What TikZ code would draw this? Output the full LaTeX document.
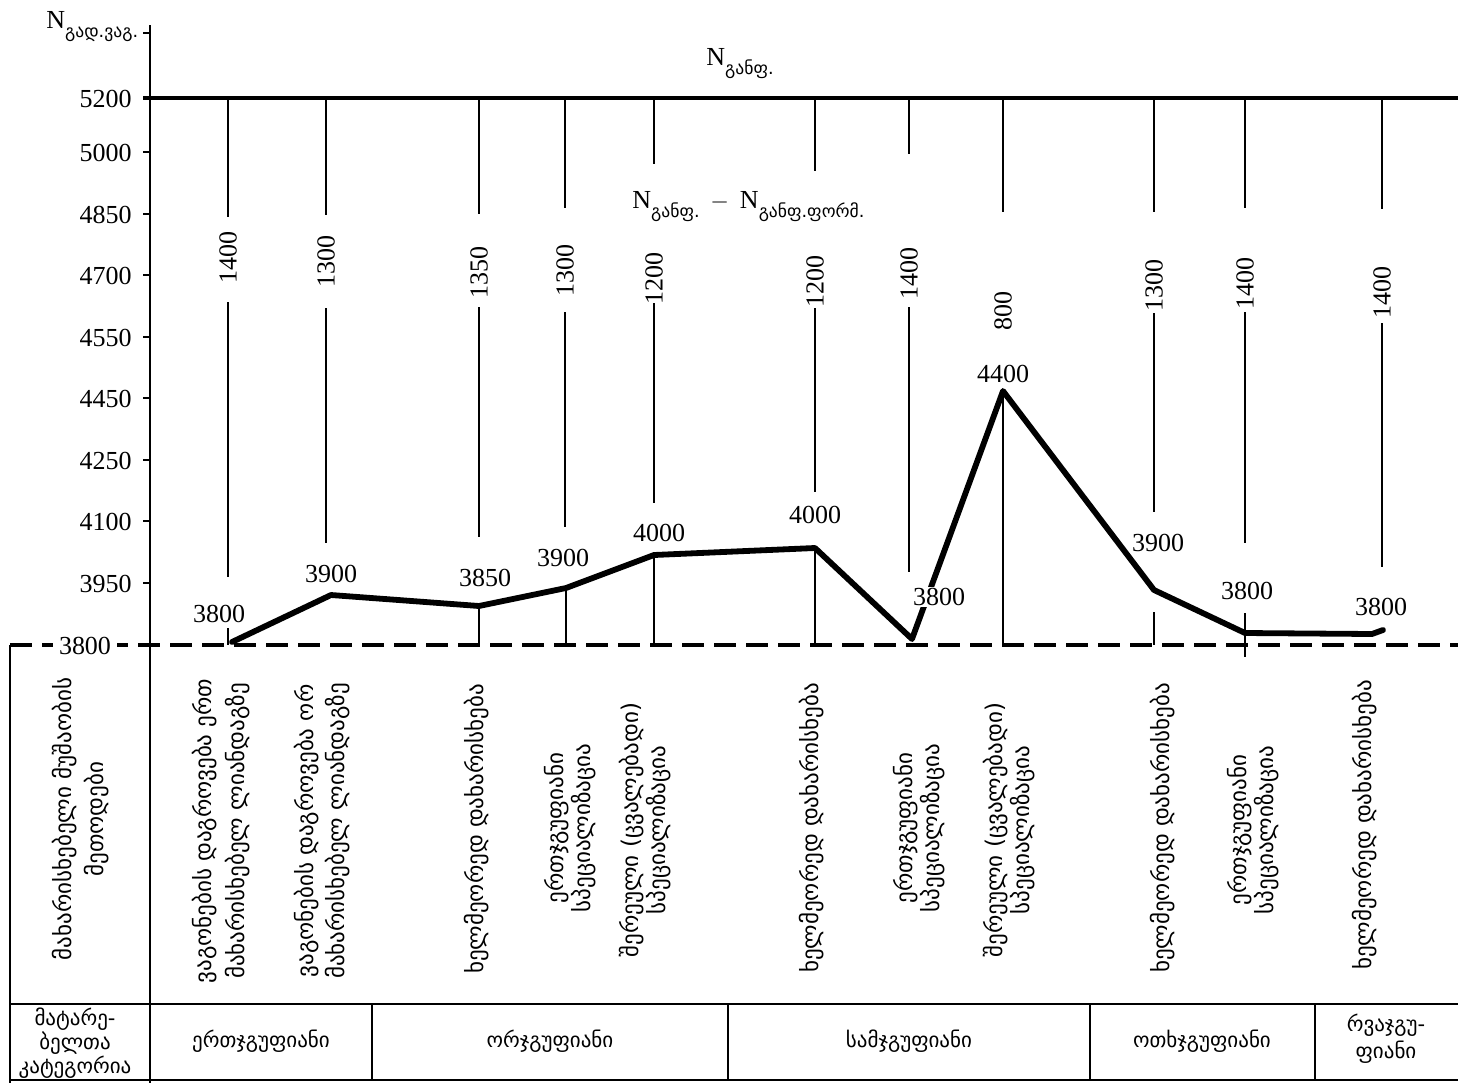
\documentclass[tikz,border=0pt]{standalone}
\usepackage{fontspec}
\setmainfont{Liberation Serif}
\newfontfamily\geo{DejaVu Sans}
\newcommand\gsub[1]{\raisebox{-4.5pt}{\geo\fontsize{8.8}{10}\selectfont #1}}
\begin{document}
\begin{tikzpicture}[x=0.5pt,y=-0.5pt,
  thinline/.style={line width=0.8pt},
  axisline/.style={line width=1.3pt},
  boldline/.style={line width=1.8pt},
  curve/.style={line width=2.9pt, line join=round, line cap=round},
  dashline/.style={line width=2pt, dash pattern=on 11pt off 5pt},
  num/.style={font=\fontsize{13}{15}\selectfont, inner sep=1pt},
  vnum/.style={num, rotate=90},
  geolab/.style={font=\geo\fontsize{11.5}{13.5}\selectfont, rotate=90, align=center, inner sep=0pt},
  cat/.style={font=\geo\fontsize{10.5}{12}\selectfont, align=center, inner sep=0pt},
]
\useasboundingbox (0,0) rectangle (1458,1083);

% axis
\coordinate (ytop) at (150,25);
\coordinate (ybot) at (150,1083);
\draw[axisline] (ytop) -- (ybot);
\coordinate (h5200a) at (143,98);
\coordinate (h5200b) at (1458,98);
\draw[boldline] (h5200a) -- (h5200b);
\foreach \yy [count=\k] in {33,152,214,275,337,398,460,521,583}{
  \coordinate (tka\k) at (143,\yy);
  \coordinate (tkb\k) at (150,\yy);
  \draw[axisline] (tka\k) -- (tkb\k);
}
\foreach \val/\yy in {5200/99,5000/153,4850/215,4700/276,4550/338,4450/399,4250/461,4100/522,3950/584}{
  \node[num, anchor=east] (tl\val) at (134,\yy) {\val};
}
\node[anchor=base west, inner sep=0pt, font=\fontsize{13}{15}\selectfont] (ylab) at (46,28) {N\gsub{გად.ვაგ.}};
\node[anchor=base west, inner sep=0pt, font=\fontsize{13}{15}\selectfont] (nf1) at (706,65) {N\gsub{განფ.}};
\node[anchor=base west, inner sep=0pt, font=\fontsize{13}{15}\selectfont] (nf2) at (632,208) {N\gsub{განფ.}\ \,$-$\ \,N\gsub{განფ.ფორმ.}};

% vertical lines with labels
\foreach \i/\x/\ta/\lab/\ly/\lb/\le in {
  1/228/217/1400/257/302/577,
  2/326/215/1300/261/308/543,
  3/479/214/1350/272/307/537,
  4/565/208/1300/270/312/527,
  5/654/164/1200/278/303/503,
  6/815/171/1200/281/308/492,
  7/909/154/1400/273/307/572,
  9/1154/212/1300/285/313/512,
  10/1245/208/1400/283/312/543,
  11/1382/209/1400/292/323/567}{
  \coordinate (va\i) at (\x,98);
  \coordinate (vb\i) at (\x,\ta);
  \node[vnum] (vn\i) at (\x,\ly) {\lab};
  \coordinate (vc\i) at (\x,\lb);
  \coordinate (vd\i) at (\x,\le);
  \draw[thinline] (va\i) -- (vb\i);
  \draw[thinline] (vc\i) -- (vd\i);
}
\coordinate (va8) at (1003,98);
\coordinate (vb8) at (1003,212);
\node[vnum] (vn8) at (1003,311) {800};
\draw[thinline] (va8) -- (vb8);

% curve points
\coordinate (p1) at (232,642);
\coordinate (p2) at (331,595);
\coordinate (p3) at (479,606);
\coordinate (p4) at (566,588);
\coordinate (p5) at (654,555);
\coordinate (p6) at (815,548);
\coordinate (p7) at (912,639);
\coordinate (p8) at (1003,391);
\coordinate (p9) at (1154,590);
\coordinate (p10) at (1245,633);
\coordinate (p11) at (1372,634);
\coordinate (p12) at (1383,630);

% drops to base line
\coordinate (b1) at (228,628); \coordinate (b1e) at (228,645);
\coordinate (b3) at (479,645);
\coordinate (b4) at (566,645);
\coordinate (b5) at (654,645);
\coordinate (b6) at (815,645);
\coordinate (b8) at (1003,645);
\coordinate (b9s) at (1154,612); \coordinate (b9) at (1154,645);
\coordinate (b10s) at (1245,613); \coordinate (b10) at (1245,657);
\draw[thinline] (b1) -- (b1e);
\draw[axisline] (p3) -- (b3);
\draw[axisline] (p4) -- (b4);
\draw[axisline] (p5) -- (b5);
\draw[axisline] (p6) -- (b6);
\draw[axisline] (p8) -- (b8);
\draw[axisline] (b9s) -- (b9);
\draw[axisline] (b10s) -- (b10);

% base dashed line
\coordinate (dA) at (10,645);
\coordinate (dB) at (1458,645);
\draw[dashline] (dA) -- (dB);
\node[num, fill=white, inner xsep=3pt] (tl3800) at (85,646) {3800};

% the curve
\draw[curve] (p1) -- (p2) -- (p3) -- (p4) -- (p5) -- (p6) -- (p7) -- (p8) -- (p9) -- (p10) -- (p11) -- (p12);

% value labels
\node[num] (q1) at (219,614) {3800};
\node[num] (q2) at (331,574) {3900};
\node[num] (q3) at (485,578) {3850};
\node[num] (q4) at (563,558) {3900};
\node[num] (q5) at (659,533) {4000};
\node[num] (q6) at (815,515) {4000};
\node[num, fill=white, inner sep=0.5pt] (q7) at (939,597) {3800};
\node[num] (q8) at (1003,374) {4400};
\node[num] (q9) at (1158,543) {3900};
\node[num] (q10) at (1247,591) {3800};
\node[num] (q11) at (1381,607) {3800};

% lower table frame
\coordinate (fL1) at (10,645); \coordinate (fL2) at (10,1083);
\draw[axisline] (fL1) -- (fL2);
\coordinate (r1a) at (10,1004); \coordinate (r1b) at (1458,1004);
\coordinate (r2a) at (10,1080); \coordinate (r2b) at (1458,1080);
\draw[axisline] (r1a) -- (r1b);
\draw[axisline] (r2a) -- (r2b);
\foreach \x [count=\k] in {372,728,1090,1315}{
  \coordinate (dv\k a) at (\x,1004);
  \coordinate (dv\k b) at (\x,1080);
  \draw[axisline] (dv\k a) -- (dv\k b);
}

% rotated method labels
\node[geolab, font=\geo\fontsize{11.5}{16}\selectfont] (m0) at (81,819) {მახარისხებელი მუშაობის\\მეთოდები};
\node[geolab, font=\geo\fontsize{11.5}{16.5}\selectfont] (m1) at (221,831) {ვაგონების დაგროვება ერთ\\მახარისხებელ ლიანდაგზე};
\node[geolab, font=\geo\fontsize{11.5}{15.5}\selectfont] (m2) at (322,831) {ვაგონების დაგროვება ორ\\მახარისხებელ ლიანდაგზე};
\node[geolab] (m3) at (477,829) {ხელმეორედ დახარისხება};
\node[geolab] (m4) at (570,828) {ერთჯგუფიანი\\სპეციალიზაცია};
\node[geolab] (m5) at (645,830) {შერეული (ცვალებადი)\\სპეციალიზაცია};
\node[geolab] (m6) at (812,828) {ხელმეორედ დახარისხება};
\node[geolab] (m7) at (919,828) {ერთჯგუფიანი\\სპეციალიზაცია};
\node[geolab] (m8) at (1009,830) {შერეული (ცვალებადი)\\სპეციალიზაცია};
\node[geolab] (m9) at (1163,828) {ხელმეორედ დახარისხება};
\node[geolab] (m10) at (1253,830) {ერთჯგუფიანი\\სპეციალიზაცია};
\node[geolab] (m11) at (1365,825) {ხელმეორედ დახარისხება};

% category row
\node[cat] (k0) at (75,1043) {მატარე-\\ბელთა\\კატეგორია};
\node[cat] (k1) at (261,1041) {ერთჯგუფიანი};
\node[cat] (k2) at (550,1041) {ორჯგუფიანი};
\node[cat] (k3) at (909,1041) {სამჯგუფიანი};
\node[cat] (k4) at (1202,1041) {ოთხჯგუფიანი};
\node[cat, font=\geo\fontsize{10.5}{13.5}\selectfont] (k5) at (1386,1039) {რვაჯგუ-\\ფიანი};
\end{tikzpicture}
\end{document}
